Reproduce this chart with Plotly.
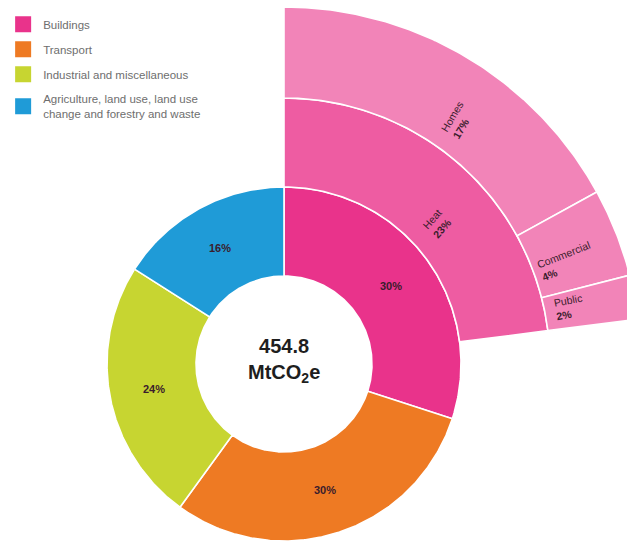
import numpy as np
import plotly.graph_objects as go

# Emissions by sector (% of total), inner ring
sectors = [
    "Buildings",
    "Transport",
    "Industrial and miscellaneous",
    "Agriculture, land use, land use change and forestry and waste",
]
sector_legend = [
    "Buildings",
    "Transport",
    "Industrial and miscellaneous",
    "Agriculture, land use, land use<br>change and forestry and waste",
]
sector_pct = [30, 30, 24, 16]

# Buildings breakdown: heat share, then heat by end use
heat_names = ["Heat"]
heat_pct = [23]
end_use_names = ["Homes", "Commercial", "Public"]
end_use_pct = [17, 4, 2]

total_emissions = 454.8

# Styling
sector_colors = ["#E9338B", "#EE7A23", "#C7D531", "#1F9BD7"]
heat_color = "#EE5CA2"
end_use_color = "#F284B8"
label_color = "#3A1C2C"
FONT = "Liberation Sans, Arial, sans-serif"

# label nudges (angle in degrees, radius in px) for the rotated labels
heat_nudge = [(6.0, -14)]
end_use_nudge = [(5.0, -12), (1.5, -11), (-0.5, -20)]

W, H = 627, 542
CX, CY = 284, 364
R_HOLE, R_CORE, R_HEAT, R_END = 88, 177, 266, 357


def ring_angles(pcts):
    edges = np.concatenate([[0.0], np.cumsum(pcts)]) * 3.6
    return edges[:-1], edges[1:]


def wedge(a0, a1, r0, r1):
    n = max(int((a1 - a0) * 2), 2) + 1
    t = np.radians(np.linspace(a0, a1, n))
    xo, yo = CX + r1 * np.sin(t), CY - r1 * np.cos(t)
    xi, yi = CX + r0 * np.sin(t[::-1]), CY - r0 * np.cos(t[::-1])
    return np.r_[xo, xi, xo[0]], np.r_[yo, yi, yo[0]]


def polar_point(angle, r):
    a = np.radians(angle)
    return CX + r * np.sin(a), CY - r * np.cos(a)


fig = go.Figure()
annotations = []


def add_ring(pcts, colors, r0, r1):
    starts, ends = ring_angles(pcts)
    for a0, a1, col in zip(starts, ends, colors):
        x, y = wedge(a0, a1, r0, r1)
        fig.add_trace(go.Scatter(
            x=x, y=y, mode="lines", fill="toself", fillcolor=col,
            line=dict(color="white", width=1.6), hoverinfo="skip",
            showlegend=False,
        ))
    return starts, ends


# Inner donut
s0, s1 = add_ring(sector_pct, sector_colors, R_HOLE, R_CORE)
for a0, a1, p in zip(s0, s1, sector_pct):
    x, y = polar_point((a0 + a1) / 2, (R_HOLE + R_CORE) / 2)
    annotations.append(dict(
        x=x, y=y, text=f"<b>{p}%</b>", showarrow=False,
        font=dict(family=FONT, size=11, color=label_color),
    ))

# Heat ring and end-use ring (sharing the Buildings start angle)
h0, h1 = add_ring(heat_pct, [heat_color], R_CORE, R_HEAT)
e0, e1 = add_ring(end_use_pct, [end_use_color] * len(end_use_pct), R_HEAT, R_END)


def radial_labels(names, pcts, starts, ends, r_mid, nudges):
    for name, p, a0, a1, (da, dr) in zip(names, pcts, starts, ends, nudges):
        mid = (a0 + a1) / 2
        x, y = polar_point(mid + da, r_mid + dr)
        annotations.append(dict(
            x=x, y=y, text=f"{name}<br><b>{p}%</b>", showarrow=False,
            textangle=mid - 90, align="left",
            font=dict(family=FONT, size=10.5, color=label_color),
        ))


radial_labels(heat_names, heat_pct, h0, h1, (R_CORE + R_HEAT) / 2, heat_nudge)
radial_labels(end_use_names, end_use_pct, e0, e1, (R_HEAT + R_END) / 2, end_use_nudge)

# Total in the centre
annotations.append(dict(
    x=CX, y=CY - 4,
    text=f"<b>{total_emissions}</b><br><b>MtCO<sub>2</sub>e</b>",
    showarrow=False,
    font=dict(family=FONT, size=20, color="#1E1E1E"),
))

# Legend entries for the four sectors
for i, (name, col) in enumerate(zip(sector_legend, sector_colors)):
    fig.add_trace(go.Scatter(
        x=[None], y=[None], mode="markers", name=name,
        marker=dict(symbol="square", size=16, color=col),
        legendgroup=f"g{i}", showlegend=True,
    ))

fig.update_layout(
    width=W, height=H,
    margin=dict(l=0, r=0, t=0, b=0),
    paper_bgcolor="white", plot_bgcolor="white",
    xaxis=dict(range=[0, W], visible=False, fixedrange=True),
    yaxis=dict(range=[H, 0], visible=False, fixedrange=True),
    annotations=annotations,
    showlegend=True,
    legend=dict(
        x=0.005, y=0.982, xanchor="left", yanchor="top",
        bgcolor="rgba(0,0,0,0)", tracegroupgap=6,
        font=dict(family=FONT, size=11.5, color="#6E6E6E"),
        itemclick=False, itemdoubleclick=False,
    ),
)

fig.write_html("out.html")
